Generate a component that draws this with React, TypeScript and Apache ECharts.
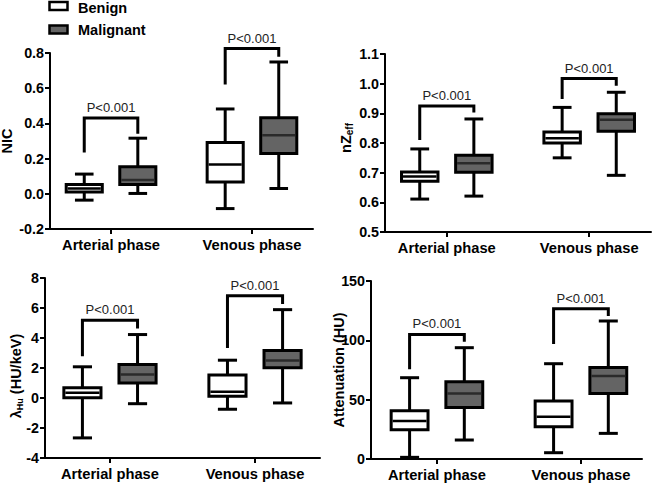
import React, { useEffect, useRef } from "react";
import * as echarts from "echarts";

// ---------- data ----------
const categories = ["Arterial phase", "Venous phase"];
const groupNames = ["Benign", "Malignant"];
const pLabel = "P<0.001";

// each box: [min, q1, median, q3, max]
const nicBenign = [[-0.036, 0.01, 0.03, 0.053, 0.112], [-0.084, 0.067, 0.166, 0.291, 0.482]];
const nicMalignant = [[0.002, 0.053, 0.078, 0.154, 0.316], [0.03, 0.229, 0.333, 0.432, 0.749]];
// bracket: [top, left leg end, right leg end]
const nicBrackets = [[0.43, 0.234, 0.341], [0.825, 0.621, 0.779]];

const zeffBenign = [[0.611, 0.671, 0.687, 0.702, 0.78], [0.75, 0.8, 0.816, 0.837, 0.92]];
const zeffMalignant = [[0.621, 0.701, 0.732, 0.759, 0.881], [0.691, 0.84, 0.878, 0.899, 0.971]];
const zeffBrackets = [[0.925, 0.81, 0.903], [1.017, 0.948, 0.993]];

const lambdaBenign = [[-2.66, 0.02, 0.35, 0.69, 2.08], [-0.75, 0.11, 0.42, 1.53, 2.52]];
const lambdaMalignant = [[-0.38, 1.0, 1.57, 2.24, 4.23], [-0.33, 2.01, 2.5, 3.17, 5.89]];
const lambdaBrackets = [[5.18, 2.79, 4.63], [6.82, 3.34, 6.27]];

const attenBenign = [[1.4, 24.7, 32, 40.7, 68.5], [5.3, 27.2, 35.7, 48.9, 80.3]];
const attenMalignant = [[16, 43.5, 55.3, 65.2, 93.8], [21.6, 55.3, 69.9, 77.2, 116.3]];
const attenBrackets = [[105, 75.6, 98.9], [126.7, 96.9, 120.5]];

// y axis scales: [min, max, interval, decimals]
const nicAxis = [-0.2, 0.8, 0.2, 1];
const zeffAxis = [0.5, 1.1, 0.1, 1];
const lambdaAxis = [-4, 8, 2, 0];
const attenAxis = [0, 150, 50, 0];

// ---------- layout / style ----------
const FONT = '"Liberation Sans", Arial, Helvetica, sans-serif';
const MAL_FILL = "#646464";
const OFFSET = 0.19;
const HALF_W = 0.128;
const CAP_W = 0.066;

const panels = [
  { benign: nicBenign, malignant: nicMalignant, brackets: nicBrackets, axis: nicAxis,
    grid: { left: 50, top: 53, width: 263, height: 176 }, xMin: 0.567, xMax: 2.433 },
  { benign: zeffBenign, malignant: zeffMalignant, brackets: zeffBrackets, axis: zeffAxis,
    grid: { left: 385, top: 54, width: 266, height: 178 }, xMin: 0.566, xMax: 2.434 },
  { benign: lambdaBenign, malignant: lambdaMalignant, brackets: lambdaBrackets, axis: lambdaAxis,
    grid: { left: 45, top: 278, width: 275, height: 180 }, xMin: 0.552, xMax: 2.448 },
  { benign: attenBenign, malignant: attenMalignant, brackets: attenBrackets, axis: attenAxis,
    grid: { left: 371, top: 281, width: 271, height: 178 }, xMin: 0.542, xMax: 2.424 },
];

function boxSeries(idx: number, name: string, data: number[][], offset: number, fill: string, medColor: string) {
  return {
    type: "custom",
    name,
    xAxisIndex: idx,
    yAxisIndex: idx,
    data: data.map((d, i) => [i + 1, ...d]),
    encode: { x: 0, y: [1, 2, 3, 4, 5] },
    renderItem: (_params: any, api: any) => {
      const xc = api.value(0) + offset;
      const X = (v: number) => api.coord([v, 0])[0];
      const Y = (v: number) => api.coord([xc, v])[1];
      const cx = X(xc);
      const xl = X(xc - HALF_W);
      const xr = X(xc + HALF_W);
      const cl = X(xc - CAP_W);
      const cr = X(xc + CAP_W);
      const yMin = Y(api.value(1));
      const yQ1 = Y(api.value(2));
      const yMed = Y(api.value(3));
      const yQ3 = Y(api.value(4));
      const yMax = Y(api.value(5));
      const ls = { stroke: "#000", lineWidth: 3 };
      return {
        type: "group",
        children: [
          { type: "line", shape: { x1: cx, y1: yQ3, x2: cx, y2: yMax }, style: ls },
          { type: "line", shape: { x1: cx, y1: yQ1, x2: cx, y2: yMin }, style: ls },
          { type: "line", shape: { x1: cl, y1: yMax, x2: cr, y2: yMax }, style: ls },
          { type: "line", shape: { x1: cl, y1: yMin, x2: cr, y2: yMin }, style: ls },
          { type: "rect", shape: { x: xl, y: yQ3, width: xr - xl, height: yQ1 - yQ3 }, style: { fill, stroke: "#000", lineWidth: 3 } },
          { type: "line", shape: { x1: xl + 1.5, y1: yMed, x2: xr - 1.5, y2: yMed }, style: { stroke: medColor, lineWidth: 2.5 } },
        ],
      };
    },
  };
}

function bracketSeries(idx: number, data: number[][]) {
  return {
    type: "custom",
    xAxisIndex: idx,
    yAxisIndex: idx,
    data: data.map((d, i) => [i + 1, ...d]),
    encode: { x: 0, y: [1, 2, 3] },
    renderItem: (_params: any, api: any) => {
      const c = api.value(0);
      const xL = api.coord([c - OFFSET, 0])[0];
      const xR = api.coord([c + OFFSET, 0])[0];
      const xM = api.coord([c, 0])[0];
      const yTop = api.coord([c, api.value(1)])[1];
      const yL = api.coord([c, api.value(2)])[1];
      const yR = api.coord([c, api.value(3)])[1];
      return {
        type: "group",
        children: [
          {
            type: "polyline",
            shape: { points: [[xL, yL], [xL, yTop], [xR, yTop], [xR, yR]] },
            style: { stroke: "#000", lineWidth: 3, fill: null, lineJoin: "miter" },
          },
          {
            type: "text",
            style: {
              text: pLabel, x: xM, y: yTop - 10.5, align: "center", verticalAlign: "middle",
              font: `13px ${FONT}`, fill: "#222",
            },
          },
        ],
      };
    },
  };
}

const axisLineStyle = { color: "#000", width: 2 };

export default function App() {
  const ref = useRef<HTMLDivElement>(null);
  useEffect(() => {
    if (!ref.current) return;
    const chart = echarts.init(ref.current, null, { renderer: "svg", width: 653, height: 483 });
    const grids = panels.map((p) => ({ ...p.grid, containLabel: false }));
    const xAxes = panels.map((p, i) => ({
      type: "value",
      gridIndex: i,
      min: p.xMin,
      max: p.xMax,
      axisLine: { show: true, onZero: false, lineStyle: axisLineStyle },
      axisTick: { show: true, customValues: [1, 2], length: 5, lineStyle: axisLineStyle },
      axisLabel: {
        customValues: [1, 2],
        formatter: (v: number) => categories[Math.round(v) - 1] ?? "",
        color: "#000", fontWeight: "bold", fontSize: 14.7, fontFamily: FONT, margin: 8,
      },
      splitLine: { show: false },
    }));
    const yAxes = panels.map((p, i) => ({
      type: "value",
      gridIndex: i,
      min: p.axis[0],
      max: p.axis[1],
      interval: p.axis[2],
      axisLine: { show: true, onZero: false, lineStyle: axisLineStyle },
      axisTick: { show: true, length: 5, lineStyle: axisLineStyle },
      axisLabel: {
        formatter: (v: number) => v.toFixed(p.axis[3]),
        color: "#000", fontWeight: "bold", fontSize: 14.3, fontFamily: FONT, margin: 6,
        showMinLabel: true, showMaxLabel: true,
      },
      splitLine: { show: false },
    }));
    const series: any[] = [];
    panels.forEach((p, i) => {
      series.push(boxSeries(i, groupNames[0], p.benign, -OFFSET, "#fff", "#000"));
      series.push(boxSeries(i, groupNames[1], p.malignant, OFFSET, MAL_FILL, "#2a2a2a"));
      series.push(bracketSeries(i, p.brackets));
    });
    const bold14 = `bold 14.5px ${FONT}`;
    const graphic: any[] = [
      { type: "rect", shape: { x: 49.5, y: 2, width: 18, height: 8 }, style: { fill: "#fff", stroke: "#000", lineWidth: 2.5 } },
      { type: "text", x: 78, y: 7.5, style: { text: groupNames[0], font: bold14, fill: "#000", verticalAlign: "middle" } },
      { type: "rect", shape: { x: 49.5, y: 25.5, width: 18, height: 8 }, style: { fill: MAL_FILL, stroke: "#000", lineWidth: 2.5 } },
      { type: "text", x: 78, y: 29.5, style: { text: groupNames[1], font: bold14, fill: "#000", verticalAlign: "middle" } },
      { type: "text", x: 7, y: 141, rotation: Math.PI / 2,
        style: { text: "NIC", font: bold14, fill: "#000", align: "center", verticalAlign: "middle" } },
      { type: "text", x: 346, y: 138, rotation: Math.PI / 2,
        style: {
          text: "{a|nZ}{b|eff}", align: "center", verticalAlign: "middle",
          rich: {
            a: { fontFamily: FONT, fontWeight: "bold", fontSize: 14.5, fill: "#000", lineHeight: 18 },
            b: { fontFamily: FONT, fontWeight: "bold", fontSize: 10, fill: "#000", lineHeight: 18, padding: [7, 0, 0, 0] },
          },
        } },
      { type: "text", x: 16, y: 376, rotation: Math.PI / 2,
        style: {
          text: "{a|λ}{b|Hu}{a| (HU/keV)}", align: "center", verticalAlign: "middle",
          rich: {
            a: { fontFamily: FONT, fontWeight: "bold", fontSize: 14.5, fill: "#000", lineHeight: 18 },
            b: { fontFamily: FONT, fontWeight: "bold", fontSize: 9, fill: "#000", lineHeight: 18, padding: [7, 0, 0, 0] },
          },
        } },
      { type: "text", x: 339, y: 370, rotation: Math.PI / 2,
        style: { text: "Attenuation (HU)", font: bold14, fill: "#000", align: "center", verticalAlign: "middle" } },
    ];
    chart.setOption({
      animation: false,
      backgroundColor: "#fff",
      grid: grids,
      xAxis: xAxes,
      yAxis: yAxes,
      series,
      graphic,
    });
    return () => chart.dispose();
  }, []);
  return <div ref={ref} style={{ position: "fixed", left: 0, top: 0, width: 653, height: 483 }} />;
}
